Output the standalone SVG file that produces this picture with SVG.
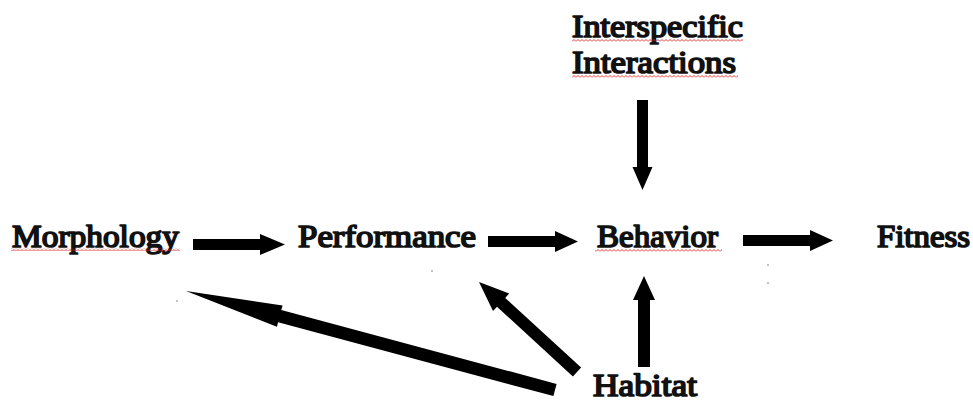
<svg xmlns="http://www.w3.org/2000/svg" width="973" height="403" viewBox="0 0 973 403">
  <style>
    .lbl { font-family: 'Liberation Serif', 'Times New Roman', serif; font-weight: normal; font-size: 31px; fill: #111; stroke: #111; stroke-width: 1.7px; stroke-linejoin: round; }
    .arrow { fill: #000; }
    .dot { fill: #777; }
  </style>
  <defs>
    <pattern id="squig" x="0" y="0" width="4" height="3" patternUnits="userSpaceOnUse">
      <path d="M0,2.5 L2,0.5 L4,2.5" fill="none" stroke="#e02020" stroke-width="0.9"/>
    </pattern>
  </defs>
  <rect width="973" height="403" fill="#fff"/>

  <g id="interspecific">
    <text class="lbl" x="572" y="37" textLength="171" lengthAdjust="spacingAndGlyphs">Interspecific</text>
    <text class="lbl" x="572" y="73" textLength="164" lengthAdjust="spacingAndGlyphs">Interactions</text>
    <rect x="572" y="39" width="171" height="3" fill="url(#squig)"/>
    <rect x="572" y="75" width="166" height="3" fill="url(#squig)"/>
  </g>
  <g id="morphology">
    <text class="lbl" x="12" y="247" textLength="167" lengthAdjust="spacingAndGlyphs">Morphology</text>
    <rect x="11" y="248" width="169" height="3" fill="url(#squig)"/>
  </g>
  <g id="performance">
    <text class="lbl" x="298" y="247" textLength="178" lengthAdjust="spacingAndGlyphs">Performance</text>
  </g>
  <g id="behavior">
    <text class="lbl" x="597" y="247" textLength="121" lengthAdjust="spacingAndGlyphs">Behavior</text>
    <rect x="595" y="249" width="127" height="3" fill="url(#squig)"/>
  </g>
  <g id="fitness">
    <text class="lbl" x="877" y="247" textLength="93" lengthAdjust="spacingAndGlyphs">Fitness</text>
  </g>
  <g id="habitat">
    <text class="lbl" x="593" y="396" textLength="104" lengthAdjust="spacingAndGlyphs">Habitat</text>
  </g>

  <g id="connectors">
    <polygon class="arrow" points="193,239 260,239 260,234 285,244.5 260,255 260,250 193,250"/>
    <polygon class="arrow" points="488,236 555,236 555,231 578,241.5 555,252 555,247 488,247"/>
    <polygon class="arrow" points="743,235 810,235 810,230 833,240.5 810,251 810,246 743,246"/>
    <polygon class="arrow" points="637,100 648,100 648,167 652.5,167 642.5,190 632.5,167 637,167"/>
    <polygon class="arrow" points="638,367 650,367 650,300 655,300 644,276 633,300 638,300"/>
    <polygon class="arrow" points="581.1,367.6 505.2,297.9 509.2,293.5 479,282 493,311.1 497,306.7 572.9,376.4"/>
    <polygon class="arrow" points="556.6,383.9 281.3,310 282.6,305.5 186,291 276.9,326.7 278.1,322.2 553.4,396.1"/>
  </g>

  <g id="specks">
    <circle class="dot" cx="177" cy="301" r="0.8"/>
    <circle class="dot" cx="432" cy="271" r="0.8"/>
    <circle class="dot" cx="768" cy="265" r="0.8"/>
    <circle class="dot" cx="768" cy="283" r="0.8"/>
  </g>
</svg>
